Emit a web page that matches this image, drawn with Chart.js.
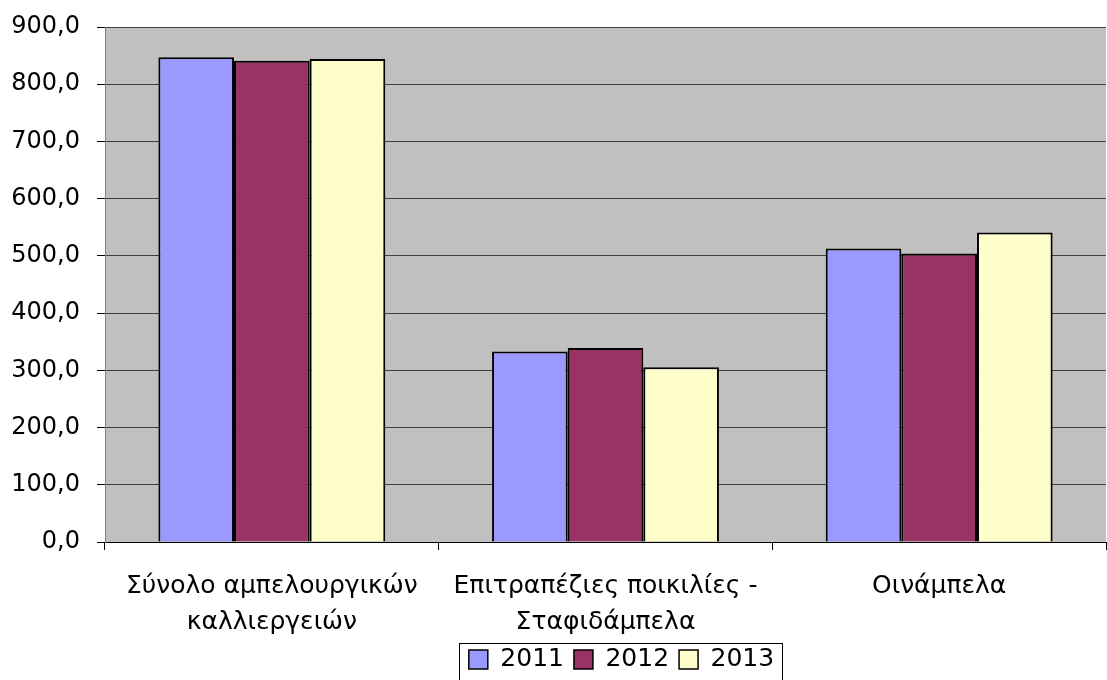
<!DOCTYPE html>
<html>
<head>
<meta charset="utf-8">
<script src="https://cdn.jsdelivr.net/npm/chart.js@4/dist/chart.umd.min.js"></script>
<style>
  html, body { margin: 0; padding: 0; background: #fff; }
  #wrap { width: 1107px; height: 680px; }
</style>
</head>
<body>
<div id="wrap"><canvas id="chart" width="1107" height="680"></canvas></div>
<script>
const categories = [
  ["Σύνολο αμπελουργικών", "καλλιεργειών"],
  ["Επιτραπέζιες ποικιλίες -", "Σταφιδάμπελα"],
  ["Οινάμπελα"]
];
const years = ["2011", "2012", "2013"];
const values2011 = [847, 333, 513];
const values2012 = [841, 339, 504];
const values2013 = [844, 305.5, 541];
const colors = ["#9999FF", "#993366", "#FFFFCC"];

const FONT = "'DejaVu Sans', Verdana, sans-serif";

// grey plot area like the old office charts
const plotBackground = {
  id: "plotBackground",
  beforeDraw(chart) {
    const { ctx, chartArea: a } = chart;
    ctx.save();
    ctx.fillStyle = "#C0C0C0";
    ctx.fillRect(a.left, a.top, a.right - a.left, a.bottom - a.top);
    ctx.strokeStyle = "#808080";
    ctx.lineWidth = 1;
    ctx.beginPath();
    ctx.moveTo(a.left, a.top + 0.5);
    ctx.lineTo(a.right, a.top + 0.5);
    ctx.stroke();
    ctx.restore();
  }
};

// legend sits a bit right of centre in the original, with a box round it
const legendBox = {
  id: "legendBox",
  afterLayout(chart) {
    chart.legend.left = 137;
  },
  afterDraw(chart) {
    const boxes = chart.legend.legendHitBoxes;
    if (!boxes || !boxes.length) return;
    const first = boxes[0], last = boxes[boxes.length - 1];
    const ctx = chart.ctx;
    ctx.save();
    ctx.strokeStyle = "#000";
    ctx.lineWidth = 1;
    const x = Math.round(first.left - 10) + 0.5;
    const y = Math.round(first.top - 4) + 0.5;
    const w = Math.round(last.left + last.width - first.left + 18);
    ctx.strokeRect(x, y, w, 60);
    ctx.restore();
  }
};

const datasets = [values2011, values2012, values2013].map((vals, i) => ({
  label: years[i],
  data: vals,
  backgroundColor: colors[i],
  borderColor: "#000",
  borderWidth: 2,
  categoryPercentage: 0.68,
  barPercentage: 1.0
}));

new Chart(document.getElementById("chart"), {
  type: "bar",
  data: { labels: categories, datasets },
  options: {
    responsive: false,
    animation: false,
    layout: { padding: { top: 27, right: 1, left: 0, bottom: -2 } },
    plugins: {
      tooltip: { enabled: false },
      legend: {
        position: "bottom",
        labels: {
          color: "#000",
          font: { family: FONT, size: 25 },
          boxWidth: 19,
          boxHeight: 19,
          padding: 10,
          generateLabels(chart) {
            return chart.data.datasets.map((d, i) => ({
              text: d.label,
              fillStyle: d.backgroundColor,
              strokeStyle: "#000",
              lineWidth: 1.5,
              datasetIndex: i
            }));
          }
        }
      }
    },
    scales: {
      x: {
        afterFit: s => { s.height = 95; },
        grid: {
          offset: true,
          drawOnChartArea: false,
          drawTicks: true,
          tickLength: 8,
          color: "#000"
        },
        border: { color: "#000" },
        ticks: {
          color: "#000",
          font: { family: FONT, size: 25, lineHeight: 1.42 },
          padding: 19,
          maxRotation: 0,
          autoSkip: false
        }
      },
      y: {
        min: 0,
        max: 900,
        afterFit: s => {
          s.width = 105;
          s.paddingTop = 0;
          s.paddingBottom = 0;
        },
        grid: {
          color: "#404040",
          tickColor: "#000",
          tickLength: 8,
          lineWidth: 1
        },
        border: { color: "#808080" },
        ticks: {
          stepSize: 100,
          color: "#000",
          font: { family: FONT, size: 24 },
          padding: 17,
          callback: v => v.toFixed(1).replace(".", ",")
        }
      }
    }
  },
  plugins: [plotBackground, legendBox]
});
</script>
</body>
</html>
